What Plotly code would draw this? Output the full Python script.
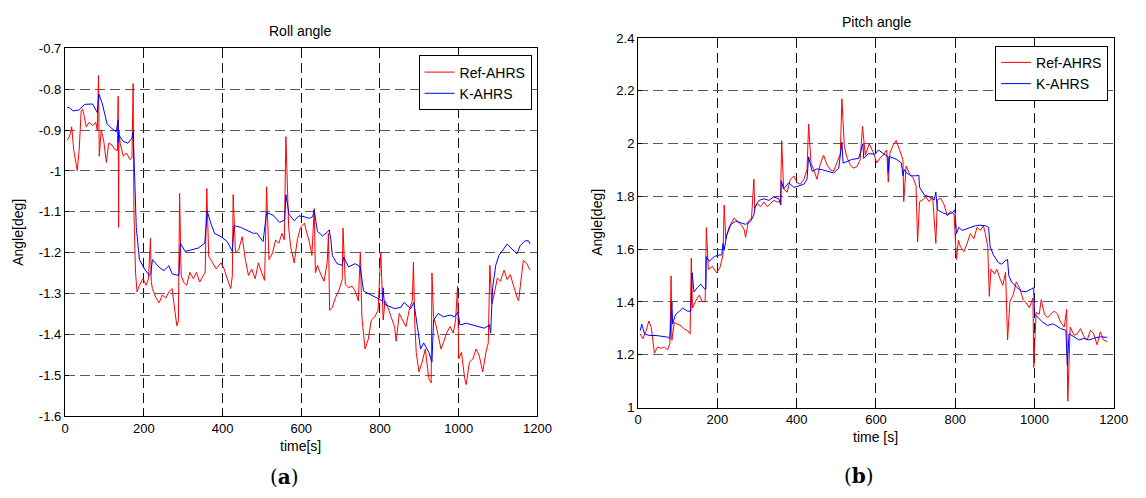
import plotly.graph_objects as go

# ---------------- Roll angle data ----------------
roll_ref_t = [5, 9, 14, 17, 22, 28, 31, 36, 41, 45, 54, 61, 70, 78, 82, 85, 87, 92, 98, 105, 111, 119, 127, 133, 135, 136, 137, 140, 148, 156, 165, 170, 173, 175, 179, 183, 189, 198, 206, 212, 217, 219, 222, 231, 239, 247, 256, 264, 272, 279, 284, 288, 291, 295, 301, 309, 317, 326, 334, 342, 350, 356, 360, 365, 375, 384, 396, 404, 412, 421, 425, 427, 433, 441, 450, 458, 466, 474, 483, 491, 499, 507, 512, 518, 527, 535, 543, 551, 557, 561, 568, 573, 582, 590, 598, 608, 612, 621, 627, 633, 636, 641, 650, 658, 666, 669, 672, 679, 687, 695, 704, 706, 712, 720, 729, 737, 745, 750, 754, 762, 770, 778, 787, 795, 802, 808, 813, 820, 828, 837, 841, 849, 857, 866, 874, 882, 885, 888, 892, 899, 907, 915, 924, 930, 932, 936, 943, 948, 955, 961, 969, 978, 986, 992, 997, 1000, 1007, 1015, 1019, 1027, 1036, 1044, 1052, 1061, 1069, 1075, 1079, 1084, 1090, 1098, 1106, 1115, 1123, 1131, 1140, 1148, 1152, 1159, 1164, 1173, 1181]
roll_ref_v = [-0.925, -0.920, -0.908, -0.892, -0.948, -0.979, -0.999, -0.948, -0.853, -0.849, -0.892, -0.881, -0.889, -0.881, -0.900, -0.766, -0.964, -0.900, -0.924, -0.979, -0.932, -0.936, -0.948, -0.950, -0.817, -1.138, -0.900, -0.932, -0.964, -0.956, -0.972, -0.968, -0.786, -1.098, -1.248, -1.296, -1.280, -1.264, -1.280, -1.264, -1.165, -1.270, -1.288, -1.311, -1.323, -1.304, -1.311, -1.296, -1.288, -1.343, -1.379, -1.367, -1.055, -1.256, -1.272, -1.280, -1.248, -1.264, -1.248, -1.272, -1.256, -1.248, -1.043, -1.209, -1.225, -1.240, -1.225, -1.240, -1.264, -1.288, -1.256, -1.058, -1.201, -1.193, -1.161, -1.217, -1.256, -1.240, -1.264, -1.225, -1.248, -1.268, -1.039, -1.217, -1.201, -1.169, -1.177, -1.153, -1.169, -0.916, -1.138, -1.185, -1.225, -1.169, -1.138, -1.128, -1.144, -1.175, -1.207, -1.092, -1.250, -1.231, -1.254, -1.270, -1.223, -1.152, -1.341, -1.334, -1.310, -1.294, -1.266, -1.140, -1.278, -1.286, -1.282, -1.294, -1.318, -1.199, -1.357, -1.436, -1.413, -1.365, -1.357, -1.341, -1.199, -1.365, -1.318, -1.334, -1.357, -1.381, -1.417, -1.349, -1.365, -1.381, -1.341, -1.318, -1.223, -1.365, -1.444, -1.492, -1.468, -1.436, -1.508, -1.519, -1.250, -1.357, -1.381, -1.401, -1.436, -1.421, -1.397, -1.381, -1.397, -1.365, -1.282, -1.460, -1.444, -1.508, -1.523, -1.468, -1.460, -1.436, -1.452, -1.492, -1.444, -1.421, -1.231, -1.326, -1.302, -1.262, -1.270, -1.243, -1.266, -1.254, -1.286, -1.310, -1.318, -1.254, -1.219, -1.227, -1.243]

roll_k_t = [5, 11, 20, 35, 50, 70, 82, 86, 94, 107, 119, 130, 135, 136, 137, 148, 160, 170, 173, 177, 181, 189, 202, 214, 218, 222, 239, 251, 264, 272, 289, 293, 305, 322, 338, 355, 361, 371, 380, 396, 412, 425, 429, 446, 462, 479, 487, 503, 512, 528, 545, 558, 561, 569, 582, 594, 607, 620, 629, 633, 641, 654, 666, 671, 675, 679, 691, 704, 708, 720, 737, 750, 758, 774, 795, 806, 808, 811, 820, 837, 853, 861, 878, 886, 895, 903, 911, 924, 932, 936, 948, 961, 978, 990, 998, 1003, 1019, 1036, 1052, 1065, 1078, 1081, 1086, 1094, 1102, 1115, 1123, 1135, 1148, 1156, 1168, 1177, 1181]
roll_k_v = [-0.845, -0.845, -0.853, -0.851, -0.837, -0.836, -0.857, -0.812, -0.833, -0.885, -0.896, -0.904, -0.875, -0.930, -0.912, -0.928, -0.932, -0.920, -0.904, -1.019, -1.138, -1.217, -1.240, -1.256, -1.250, -1.217, -1.236, -1.244, -1.232, -1.252, -1.256, -1.177, -1.197, -1.193, -1.189, -1.177, -1.098, -1.130, -1.153, -1.161, -1.173, -1.197, -1.134, -1.138, -1.145, -1.153, -1.152, -1.173, -1.102, -1.108, -1.126, -1.120, -1.058, -1.106, -1.122, -1.110, -1.112, -1.116, -1.112, -1.096, -1.148, -1.159, -1.150, -1.144, -1.167, -1.207, -1.227, -1.231, -1.211, -1.235, -1.227, -1.235, -1.294, -1.302, -1.314, -1.318, -1.286, -1.326, -1.330, -1.337, -1.334, -1.322, -1.337, -1.322, -1.381, -1.436, -1.421, -1.444, -1.468, -1.365, -1.349, -1.357, -1.353, -1.357, -1.345, -1.377, -1.373, -1.377, -1.381, -1.385, -1.377, -1.397, -1.286, -1.231, -1.207, -1.191, -1.179, -1.191, -1.203, -1.183, -1.171, -1.171, -1.179]

# ---------------- Pitch angle data ----------------
pitch_ref_t = [5, 12, 20, 27, 33, 37, 41, 49, 58, 66, 74, 80, 83, 85, 91, 100, 108, 116, 125, 131, 134, 137, 146, 154, 162, 169, 172, 177, 187, 198, 206, 214, 217, 221, 229, 242, 250, 259, 267, 271, 278, 286, 292, 294, 300, 309, 317, 326, 334, 342, 351, 359, 362, 367, 376, 384, 393, 401, 409, 418, 426, 430, 436, 443, 451, 460, 468, 476, 485, 493, 501, 510, 514, 520, 526, 535, 543, 552, 560, 566, 573, 583, 593, 602, 610, 618, 627, 631, 635, 643, 651, 660, 668, 670, 676, 685, 693, 701, 705, 710, 718, 726, 734, 743, 751, 755, 763, 772, 780, 788, 797, 803, 808, 813, 822, 830, 838, 847, 855, 863, 871, 876, 882, 886, 890, 899, 905, 913, 920, 927, 932, 938, 946, 954, 963, 971, 979, 987, 996, 998, 1004, 1012, 1017, 1025, 1033, 1042, 1050, 1058, 1066, 1075, 1081, 1084, 1090, 1100, 1108, 1116, 1125, 1133, 1141, 1149, 1158, 1166, 1174, 1183]
pitch_ref_v = [1.279, 1.261, 1.291, 1.328, 1.304, 1.243, 1.206, 1.230, 1.224, 1.230, 1.218, 1.243, 1.499, 1.255, 1.322, 1.316, 1.310, 1.298, 1.291, 1.279, 1.566, 1.377, 1.407, 1.426, 1.401, 1.401, 1.682, 1.523, 1.535, 1.511, 1.529, 1.578, 1.767, 1.639, 1.682, 1.718, 1.706, 1.694, 1.676, 1.645, 1.706, 1.718, 1.865, 1.755, 1.773, 1.761, 1.779, 1.761, 1.773, 1.785, 1.779, 1.779, 2.011, 1.828, 1.816, 1.865, 1.877, 1.852, 1.846, 1.865, 1.901, 2.074, 1.926, 1.901, 1.865, 1.926, 1.956, 1.920, 1.901, 1.895, 1.926, 1.962, 2.170, 1.993, 1.950, 1.920, 1.907, 1.913, 1.938, 2.066, 1.956, 1.999, 1.968, 1.927, 1.945, 1.957, 1.976, 1.854, 1.963, 1.994, 2.012, 1.970, 1.939, 1.780, 1.915, 1.884, 1.872, 1.841, 1.628, 1.780, 1.787, 1.799, 1.780, 1.799, 1.622, 1.787, 1.793, 1.768, 1.726, 1.744, 1.732, 1.561, 1.634, 1.610, 1.591, 1.622, 1.659, 1.640, 1.683, 1.671, 1.689, 1.659, 1.610, 1.421, 1.524, 1.506, 1.524, 1.488, 1.463, 1.512, 1.256, 1.402, 1.427, 1.476, 1.451, 1.409, 1.396, 1.378, 1.415, 1.152, 1.360, 1.354, 1.409, 1.354, 1.341, 1.354, 1.366, 1.354, 1.323, 1.305, 1.372, 1.024, 1.305, 1.274, 1.280, 1.299, 1.268, 1.256, 1.293, 1.280, 1.238, 1.287, 1.256, 1.250]

pitch_k_t = [5, 9, 16, 28, 45, 62, 74, 80, 85, 87, 94, 104, 112, 125, 133, 136, 141, 150, 158, 167, 171, 172, 179, 192, 204, 211, 214, 217, 223, 234, 246, 259, 271, 284, 292, 295, 305, 317, 330, 342, 355, 360, 361, 367, 380, 393, 405, 418, 426, 430, 439, 451, 464, 480, 493, 506, 514, 517, 526, 539, 556, 567, 569, 581, 598, 606, 618, 630, 631, 633, 651, 664, 668, 671, 676, 689, 701, 708, 710, 722, 734, 747, 751, 755, 768, 780, 793, 799, 803, 809, 817, 830, 842, 851, 863, 876, 884, 888, 896, 909, 917, 925, 932, 935, 942, 954, 967, 979, 992, 998, 1000, 1008, 1021, 1033, 1046, 1054, 1066, 1079, 1083, 1087, 1100, 1112, 1125, 1137, 1149, 1166, 1183]
pitch_k_v = [1.291, 1.316, 1.279, 1.273, 1.273, 1.270, 1.267, 1.261, 1.401, 1.316, 1.352, 1.365, 1.377, 1.365, 1.365, 1.511, 1.438, 1.456, 1.468, 1.450, 1.450, 1.572, 1.554, 1.572, 1.578, 1.578, 1.621, 1.596, 1.651, 1.694, 1.706, 1.700, 1.694, 1.706, 1.730, 1.761, 1.785, 1.791, 1.785, 1.798, 1.791, 1.767, 1.859, 1.828, 1.852, 1.834, 1.840, 1.846, 1.865, 1.950, 1.895, 1.904, 1.901, 1.895, 1.889, 1.907, 2.005, 1.926, 1.932, 1.940, 1.944, 1.999, 1.944, 1.962, 1.960, 1.976, 1.963, 1.951, 1.890, 1.951, 1.941, 1.927, 1.878, 1.902, 1.890, 1.878, 1.878, 1.880, 1.835, 1.805, 1.799, 1.787, 1.817, 1.750, 1.738, 1.732, 1.738, 1.750, 1.659, 1.683, 1.671, 1.677, 1.683, 1.689, 1.691, 1.689, 1.683, 1.610, 1.579, 1.549, 1.543, 1.555, 1.561, 1.500, 1.476, 1.457, 1.441, 1.439, 1.449, 1.454, 1.354, 1.341, 1.323, 1.311, 1.317, 1.311, 1.299, 1.293, 1.159, 1.280, 1.268, 1.256, 1.262, 1.256, 1.262, 1.268, 1.266]

x_ticks = [0, 200, 400, 600, 800, 1000, 1200]
roll_ticks = [-0.7, -0.8, -0.9, -1.0, -1.1, -1.2, -1.3, -1.4, -1.5, -1.6]
roll_tick_text = ["-0.7", "-0.8", "-0.9", "-1", "-1.1", "-1.2", "-1.3", "-1.4", "-1.5", "-1.6"]
pitch_ticks = [1.0, 1.2, 1.4, 1.6, 1.8, 2.0, 2.2, 2.4]
pitch_tick_text = ["1", "1.2", "1.4", "1.6", "1.8", "2", "2.2", "2.4"]

RED = "#ff0000"
BLUE = "#0000ff"
FONT = "Liberation Sans, Arial, sans-serif"

fig = go.Figure()
fig.add_trace(go.Scatter(x=roll_ref_t, y=roll_ref_v, mode="lines", name="Ref-AHRS",
                         line=dict(color=RED, width=1), xaxis="x", yaxis="y", legend="legend"))
fig.add_trace(go.Scatter(x=roll_k_t, y=roll_k_v, mode="lines", name="K-AHRS",
                         line=dict(color=BLUE, width=1), xaxis="x", yaxis="y", legend="legend"))
fig.add_trace(go.Scatter(x=pitch_ref_t, y=pitch_ref_v, mode="lines", name="Ref-AHRS",
                         line=dict(color=RED, width=1), xaxis="x2", yaxis="y2", legend="legend2"))
fig.add_trace(go.Scatter(x=pitch_k_t, y=pitch_k_v, mode="lines", name="K-AHRS",
                         line=dict(color=BLUE, width=1), xaxis="x2", yaxis="y2", legend="legend2"))

W, H = 1146, 498

def px_x(p):
    return p / W

def px_y(p):
    return 1 - p / H

axis_common = dict(showline=True, linecolor="black", linewidth=1.3, mirror=True,
                   ticks="inside", ticklen=4, tickcolor="black",
                   showgrid=True, griddash="10px,5px", gridwidth=1,
                   zeroline=False, tickfont=dict(family=FONT, size=13, color="black"))
xgrid = dict(gridcolor="#111111")
ygrid = dict(gridcolor="#5a5a5a")

fig.update_layout(
    width=W, height=H,
    margin=dict(l=0, r=0, t=0, b=0),
    paper_bgcolor="white", plot_bgcolor="white",
    xaxis=dict(domain=[px_x(62), px_x(542)], range=[0, 1200], tickvals=x_ticks,
               anchor="y", **axis_common, **xgrid),
    yaxis=dict(domain=[px_y(421.7), px_y(42.7)], range=[-1.6, -0.7], tickvals=roll_ticks,
               ticktext=roll_tick_text, anchor="x", **axis_common, **ygrid),
    xaxis2=dict(domain=[px_x(644.3), px_x(1127.5)], range=[0, 1200], tickvals=x_ticks,
                anchor="y2", **axis_common, **xgrid),
    yaxis2=dict(domain=[px_y(413), px_y(32)], range=[1.0, 2.4], tickvals=pitch_ticks,
                ticktext=pitch_tick_text, anchor="x2", **axis_common, **ygrid),
    legend=dict(x=px_x(536), y=px_y(50), xanchor="right", yanchor="top",
                bgcolor="white", bordercolor="black", borderwidth=1,
                font=dict(family=FONT, size=14, color="black"), tracegroupgap=0),
    legend2=dict(x=px_x(1121.7), y=px_y(40), xanchor="right", yanchor="top",
                 bgcolor="white", bordercolor="black", borderwidth=1,
                 font=dict(family=FONT, size=14, color="black"), tracegroupgap=0),
    showlegend=True,
)

ann = [
    dict(text="Roll angle", x=px_x(301), y=px_y(25), font=dict(family=FONT, size=14)),
    dict(text="Pitch angle", x=px_x(886), y=px_y(15), font=dict(family=FONT, size=14)),
    dict(text="time[s]", x=px_x(301), y=px_y(453), font=dict(family=FONT, size=14)),
    dict(text="time [s]", x=px_x(885), y=px_y(443), font=dict(family=FONT, size=14)),
    dict(text="Angle[deg]", x=px_x(14), y=px_y(232), textangle=-90, font=dict(family=FONT, size=14)),
    dict(text="Angle[deg]", x=px_x(603), y=px_y(222), textangle=-90, font=dict(family=FONT, size=14)),
    dict(text="(<b>a</b>)", x=px_x(285), y=px_y(485), font=dict(family="DejaVu Serif, Liberation Serif, serif", size=20)),
    dict(text="(<b>b</b>)", x=px_x(869), y=px_y(484), font=dict(family="DejaVu Serif, Liberation Serif, serif", size=20)),
]
for a in ann:
    a.update(xref="paper", yref="paper", showarrow=False, xanchor="center", yanchor="middle")
    a["font"]["color"] = "black"
fig.update_layout(annotations=ann)

fig.write_html("out.html")
